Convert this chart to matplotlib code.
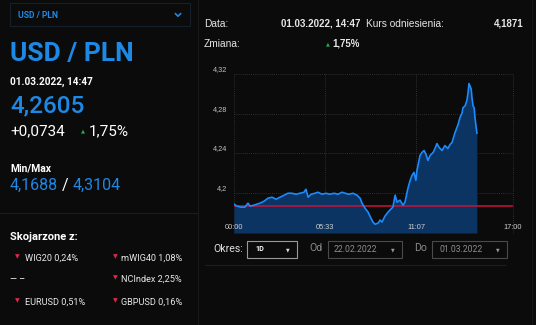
import matplotlib
matplotlib.use("Agg")
import matplotlib.pyplot as plt
from matplotlib.patches import Rectangle
from matplotlib.lines import Line2D
from matplotlib.transforms import ScaledTranslation

# ---------------- data ----------------
minutes = [0, 11, 26, 40, 51, 59, 73, 95, 110, 124, 139, 154, 168, 183, 197, 212,
           227, 241, 256, 263, 271, 282, 296, 307, 322, 336, 351, 366, 380, 395,
           406, 420, 435, 450, 461, 468, 479, 490, 497, 508, 516, 527, 534, 541,
           552, 563, 570, 581, 589, 596, 607, 618, 625, 636, 644, 651, 658, 665,
           669, 680, 687, 695, 702, 709, 717, 728, 735, 742, 750, 761, 771, 782,
           790, 797, 808, 819, 826, 834, 837, 845, 852, 856, 859, 867, 870, 874,
           878, 881, 888]
rate = [4.189, 4.187, 4.186, 4.186, 4.190, 4.187, 4.188, 4.190, 4.192, 4.195,
        4.196, 4.194, 4.196, 4.198, 4.200, 4.200, 4.199, 4.200, 4.201, 4.204,
        4.196, 4.199, 4.200, 4.201, 4.199, 4.200, 4.199, 4.200, 4.199, 4.201,
        4.200, 4.199, 4.200, 4.198, 4.195, 4.190, 4.185, 4.181, 4.177, 4.171,
        4.1688, 4.170, 4.173, 4.171, 4.177, 4.181, 4.183, 4.186, 4.198, 4.191,
        4.193, 4.188, 4.191, 4.205, 4.213, 4.218, 4.221, 4.213, 4.223, 4.238,
        4.241, 4.243, 4.239, 4.233, 4.238, 4.241, 4.245, 4.250, 4.246, 4.243,
        4.248, 4.245, 4.249, 4.251, 4.261, 4.269, 4.276, 4.281, 4.286, 4.288,
        4.294, 4.302, 4.3104, 4.305, 4.296, 4.288, 4.286, 4.276, 4.2605]
reference_rate = 4.1871
x_ticks = [0, 333, 667, 1020]
x_tick_labels = ["00:00", "05:33", "11:07", "17:00"]
y_ticks = [4.20, 4.24, 4.28, 4.32]
y_tick_labels = ["4,2", "4,24", "4,28", "4,32"]
y_range = (4.16, 4.32)

pair = "USD / PLN"
stamp = "01.03.2022, 14:47"
last = "4,2605"
change_abs = "+0,0734"
change_pct = "1,75%"
min_val, max_val = "4,1688", "4,3104"
ref_text = "4,1871"
related_left = ["WIG20 0,24%", None, "EURUSD 0,51%"]
related_right = ["mWIG40 1,08%", "NCIndex 2,25%", "GBPUSD 0,16%"]
period = "1D"
date_from = "22.02.2022"
date_to = "01.03.2022"

# ---------------- style ----------------
W, H = 536, 325
BG = "#0b0b0b"
BLUE = "#1e88e5"
LINE = "#1a8cff"
FILL = "#0c3462"
RED = "#c8143c"
GREEN = "#22b04b"
DOWN = "#e3264c"
GRID = "#3a3a3a"
ROBOTO = ["Roboto", "DejaVu Sans"]
ARIAL = ["Liberation Sans", "DejaVu Sans"]

fig = plt.figure(figsize=(W / 100, H / 100), dpi=100, facecolor=BG)


def P(x, y):
    return x / W, 1 - y / H


def txt(x, y, s, size, color="white", weight="normal", ha="left", family=ROBOTO, va="baseline"):
    fx, fy = P(x, y)
    return fig.text(fx, fy, s, fontsize=size, color=color, fontweight=weight, ha=ha,
                    va=va, family=family)


def hline(x0, x1, y, color="#1d1d1d", lw=0.8):
    fig.add_artist(Line2D([x0 / W, x1 / W], [1 - y / H, 1 - y / H], color=color, lw=lw,
                          transform=fig.transFigure))


def vline(x, y0, y1, color="#1d1d1d", lw=0.8):
    fig.add_artist(Line2D([x / W, x / W], [1 - y0 / H, 1 - y1 / H], color=color, lw=lw,
                          transform=fig.transFigure))


def box(x0, y0, x1, y1, ec, lw=0.8):
    fig.add_artist(Rectangle((x0 / W, 1 - y1 / H), (x1 - x0) / W, (y1 - y0) / H,
                             fill=False, ec=ec, lw=lw, transform=fig.transFigure))


def chevron(x, y, color, s=3):
    fig.add_artist(Line2D([(x - s) / W, x / W, (x + s) / W],
                          [1 - (y - s / 2) / H, 1 - (y + s / 2) / H, 1 - (y - s / 2) / H],
                          color=color, lw=1.2, transform=fig.transFigure))


# ---------------- left panel ----------------
box(10, 3, 190, 26, "#16202c")
txt(18, 18, pair, 6.2, BLUE, "bold")
chevron(178, 15, BLUE, 2.5)

txt(10, 61, pair, 19, BLUE, "bold")
txt(10, 85, stamp, 7.2, "white", "bold")
txt(10, 112, last, 17.5, BLUE, "medium")
txt(10, 135, change_abs, 11, "white")
txt(81, 132, "▲", 3.8, GREEN, family=["DejaVu Sans"])
txt(89, 135, change_pct, 11, "white")

txt(10, 171, "Min/Max", 7.5, "white", "bold")
t = txt(10, 190, min_val, 11.5, BLUE)
t2 = txt(0, 190, " / ", 11.5, "white")
t3 = txt(0, 190, max_val, 11.5, BLUE)
fig.canvas.draw()
r = fig.canvas.get_renderer()
fy = P(0, 190)[1]
bb = t.get_window_extent(r)
t2.set_position((bb.x1 / fig.bbox.width, fy))
bb2 = t2.get_window_extent(r)
t3.set_position((bb2.x1 / fig.bbox.width, fy))

hline(0, 197, 213)
txt(10, 240, "Skojarzone z:", 8, "white", "bold")
rows_y = [261, 282, 305]
for yy, lft, rgt in zip(rows_y, related_left, related_right):
    if lft is None:
        txt(10, yy, "— –", 6.5, "white")
    else:
        txt(17, yy - 2.5, "▼", 4.4, DOWN, family=["DejaVu Sans"], ha="center")
        txt(25, yy, lft, 6.6, "#e8e8e8")
    txt(115, yy - 2.5, "▼", 4.4, DOWN, family=["DejaVu Sans"], ha="center")
    txt(121, yy, rgt, 6.6, "#e8e8e8")

vline(198, 0, 325, "#1a1a1a")
vline(532, 0, 325, "#161616")

# ---------------- right header ----------------
txt(204, 27, "Data:", 7.3, "#e6e6e6", family=ARIAL)
txt(360, 27, stamp, 7.0, "#e6e6e6", "bold", ha="right", family=ARIAL)
txt(366, 27, "Kurs odniesienia:", 7.3, "#e6e6e6", family=ARIAL)
txt(523, 27, ref_text, 7.0, "#e6e6e6", "bold", ha="right", family=ARIAL)
txt(204, 47, "Zmiana:", 7.3, "#e6e6e6", family=ARIAL)
txt(328, 45, "▲", 3.6, GREEN, family=["DejaVu Sans"], ha="center")
txt(360, 47, change_pct, 7.0, "#e6e6e6", "bold", ha="right", family=ARIAL)

# ---------------- chart ----------------
x0, x1, yt, yb = 234, 513, 74, 233
ax = fig.add_axes([x0 / W, 1 - yb / H, (x1 - x0) / W, (yb - yt) / H])
ax.set_facecolor(BG)
ax.vlines(x_ticks, y_range[0], y_range[1], colors=GRID, lw=0.6,
          linestyles=[(0, (1, 1.5))], zorder=0.3, clip_on=False)
ax.fill_between(minutes, rate, y_range[0], color=FILL, lw=0, zorder=1)
ax.axhline(reference_rate, color=RED, lw=1.1, zorder=2)
ax.plot(minutes, rate, color=LINE, lw=1.2, zorder=3, solid_joinstyle="round")
ax.set_xlim(x_ticks[0], x_ticks[-1])
ax.set_ylim(*y_range)
ax.set_xticks(x_ticks)
ax.set_xticklabels(x_tick_labels)
ax.set_yticks(y_ticks)
ax.set_yticklabels(y_tick_labels)
for s in ax.spines.values():
    s.set_visible(False)
ax.grid(True, axis="y", color=GRID, lw=0.6, ls=(0, (1, 1.5)))
ax.grid(False, axis="x")
ax.set_axisbelow(True)
ax.xaxis.set_zorder(5)
for g in ax.get_ygridlines():
    g.set_clip_on(False)
ax.tick_params(axis="x", length=0, pad=-2.9, labelsize=5.3, labelcolor="#d0d0d0")
ax.tick_params(axis="y", length=0, pad=5, labelsize=5.3, labelcolor="#c0c0c0")
for lbl in ax.get_xticklabels():
    lbl.set_family(ARIAL)
    lbl.set_va("baseline")
for lbl in ax.get_yticklabels():
    lbl.set_family(ARIAL)
    lbl.set_va("baseline")
    lbl.set_transform(lbl.get_transform() + ScaledTranslation(0, 3 / 100, fig.dpi_scale_trans))

# ---------------- controls ----------------
txt(213, 252, "Okres:", 7.6, "#e0e0e0")
box(247, 241, 297, 258, "#9a9a9a")
txt(255, 251, period, 5.2, "white", "bold")
txt(288, 251, "▼", 3.4, "#dddddd", family=["DejaVu Sans"], ha="center")
txt(309, 251, "Od", 7.6, "#8a8a8a")
box(328, 241, 402, 258, "#4a4a4a")
txt(334, 252, date_from, 6.2, "#8e8e8e")
txt(393, 251, "▼", 3.4, "#9a9a9a", family=["DejaVu Sans"], ha="center")
txt(414, 251, "Do", 7.6, "#8a8a8a")
box(432, 241, 507, 258, "#4a4a4a")
txt(439, 252, date_to, 6.2, "#8e8e8e")
txt(498, 251, "▼", 3.4, "#9a9a9a", family=["DejaVu Sans"], ha="center")
hline(205, 505, 265, "#1f1f1f")

fig.savefig("out.png", dpi=100, facecolor=BG)
